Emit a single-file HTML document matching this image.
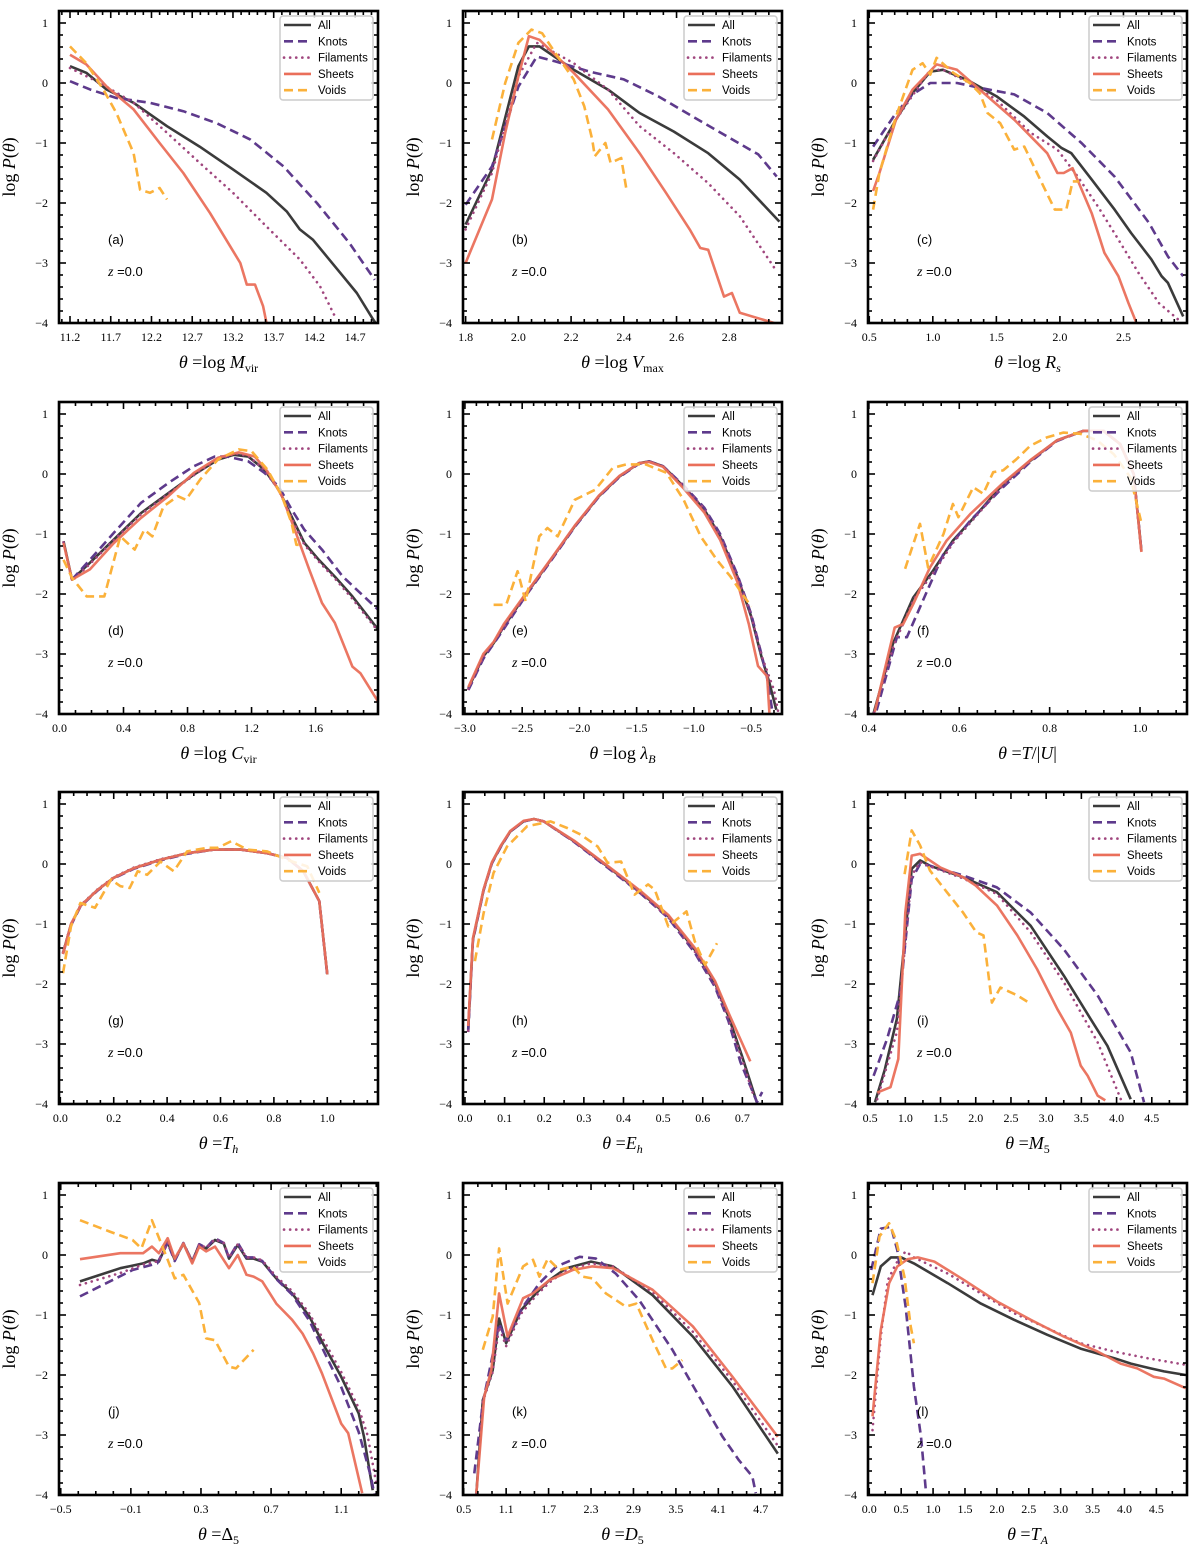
<!DOCTYPE html>
<html><head><meta charset="utf-8">
<style>
html,body{margin:0;padding:0;background:#fff;}
svg text{font-family:"Liberation Serif","DejaVu Serif",serif;}
.sans{font-family:"Liberation Sans","DejaVu Sans",sans-serif;}
</style></head>
<body>
<svg id="fig" width="1200" height="1550" viewBox="0 0 1200 1550" xmlns="http://www.w3.org/2000/svg"></svg>
<script>
// ===== data (x, log P) per panel/series =====
const a_all=[[11.2,0.28],[11.4,0.17],[11.65,-0.11],[11.98,-0.33],[12.39,-0.72],[12.79,-1.06],[13.2,-1.44],[13.61,-1.83],[13.86,-2.14],[14.02,-2.44],[14.18,-2.61],[14.35,-2.89],[14.55,-3.22],[14.72,-3.5],[14.92,-3.94],[14.95,-4.0]];
const a_knots=[[11.2,0.03],[11.45,-0.11],[11.77,-0.25],[12.18,-0.33],[12.59,-0.47],[13.0,-0.67],[13.41,-0.94],[13.82,-1.39],[14.23,-2.0],[14.63,-2.67],[14.94,-3.28]];
const a_fil=[[11.2,0.25],[11.57,0.0],[11.98,-0.33],[12.39,-0.83],[12.79,-1.33],[13.2,-1.83],[13.61,-2.39],[14.02,-2.94],[14.27,-3.39],[14.47,-3.94]];
const a_sheets=[[11.2,0.47],[11.4,0.31],[11.65,-0.06],[11.98,-0.44],[12.3,-1.0],[12.59,-1.5],[12.92,-2.17],[13.29,-3.0],[13.37,-3.36],[13.47,-3.36],[13.57,-3.72],[13.61,-3.99]];
const a_voids=[[11.2,0.61],[11.4,0.33],[11.61,-0.11],[11.77,-0.5],[11.98,-1.17],[12.06,-1.78],[12.18,-1.83],[12.3,-1.75],[12.39,-1.94]];

const b_all=[[1.8,-2.36],[1.9,-1.44],[2.0,0.28],[2.04,0.61],[2.08,0.61],[2.21,0.22],[2.34,-0.11],[2.46,-0.5],[2.59,-0.81],[2.72,-1.17],[2.84,-1.61],[2.99,-2.31]];
const b_knots=[[1.8,-2.03],[1.9,-1.39],[2.0,-0.06],[2.07,0.44],[2.14,0.36],[2.27,0.19],[2.4,0.06],[2.53,-0.22],[2.65,-0.53],[2.78,-0.86],[2.91,-1.19],[2.98,-1.56]];
const b_fil=[[1.8,-2.44],[1.9,-1.5],[2.0,0.11],[2.07,0.67],[2.21,0.33],[2.34,-0.11],[2.46,-0.72],[2.59,-1.17],[2.72,-1.67],[2.84,-2.22],[2.98,-3.14]];
const b_sheets=[[1.8,-3.0],[1.9,-1.94],[1.95,-0.83],[2.0,0.11],[2.04,0.78],[2.08,0.72],[2.21,0.17],[2.34,-0.44],[2.46,-1.17],[2.56,-1.83],[2.65,-2.44],[2.69,-2.75],[2.72,-2.78],[2.78,-3.56],[2.81,-3.5],[2.84,-3.83],[2.97,-4.0]];
const b_voids=[[1.9,-0.94],[1.95,0.0],[2.0,0.67],[2.05,0.89],[2.09,0.83],[2.14,0.5],[2.21,0.06],[2.25,-0.39],[2.28,-0.94],[2.29,-1.22],[2.33,-1.0],[2.35,-1.33],[2.39,-1.25],[2.41,-1.78]];

const c_all=[[0.53,-1.28],[0.71,-0.61],[0.84,-0.17],[0.98,0.19],[1.08,0.22],[1.29,0.03],[1.5,-0.22],[1.72,-0.56],[1.9,-0.89],[2.01,-1.08],[2.09,-1.17],[2.25,-1.61],[2.43,-2.11],[2.56,-2.5],[2.72,-2.94],[2.8,-3.22],[2.85,-3.33],[2.97,-3.89]];
const c_knots=[[0.53,-1.06],[0.71,-0.5],[0.84,-0.19],[0.98,0.0],[1.19,0.0],[1.37,-0.08],[1.64,-0.19],[1.9,-0.5],[2.17,-1.0],[2.43,-1.56],[2.7,-2.33],[2.85,-2.89],[2.97,-3.22]];
const c_fil=[[0.53,-1.3],[0.71,-0.61],[0.98,0.22],[1.08,0.22],[1.29,0.0],[1.5,-0.28],[1.77,-0.83],[1.98,-1.11],[2.14,-1.56],[2.3,-2.06],[2.46,-2.61],[2.62,-3.17],[2.78,-3.67],[2.93,-3.94]];
const c_sheets=[[0.53,-1.8],[0.58,-1.5],[0.71,-0.61],[0.84,-0.11],[1.03,0.31],[1.19,0.22],[1.37,-0.11],[1.64,-0.61],[1.9,-1.17],[1.98,-1.5],[2.03,-1.5],[2.1,-1.42],[2.25,-2.17],[2.35,-2.83],[2.46,-3.22],[2.54,-3.67],[2.6,-3.99]];
const c_voids=[[0.53,-2.11],[0.58,-1.5],[0.71,-0.56],[0.84,0.22],[0.92,0.33],[0.98,0.14],[1.03,0.42],[1.16,0.17],[1.29,0.0],[1.37,-0.17],[1.43,-0.5],[1.53,-0.67],[1.64,-1.11],[1.72,-1.06],[1.82,-1.5],[1.96,-2.11],[2.05,-2.11],[2.1,-1.64],[2.15,-1.64]];

const d_all=[[0.025,-1.12],[0.078,-1.76],[0.19,-1.48],[0.34,-1.09],[0.51,-0.65],[0.68,-0.32],[0.84,-0.01],[0.99,0.24],[1.09,0.32],[1.18,0.29],[1.28,0.07],[1.37,-0.26],[1.45,-0.71],[1.53,-1.15],[1.62,-1.43],[1.72,-1.71],[1.83,-2.04],[1.99,-2.59]];
const d_knots=[[0.078,-1.76],[0.19,-1.43],[0.34,-0.98],[0.51,-0.48],[0.68,-0.15],[0.84,0.13],[0.97,0.29],[1.05,0.29],[1.18,0.21],[1.28,0.02],[1.37,-0.21],[1.45,-0.59],[1.53,-0.93],[1.64,-1.26],[1.77,-1.71],[1.99,-2.26]];
const d_fil=[[0.025,-1.14],[0.078,-1.78],[0.19,-1.5],[0.34,-1.1],[0.51,-0.67],[0.68,-0.33],[0.84,-0.02],[0.99,0.25],[1.1,0.34],[1.18,0.3],[1.28,0.07],[1.37,-0.27],[1.45,-0.73],[1.53,-1.18],[1.62,-1.46],[1.72,-1.74],[1.83,-2.08],[1.99,-2.62]];
const d_sheets=[[0.025,-1.15],[0.078,-1.76],[0.19,-1.59],[0.34,-1.15],[0.51,-0.73],[0.68,-0.37],[0.84,0.02],[0.99,0.27],[1.12,0.36],[1.22,0.29],[1.3,0.04],[1.39,-0.37],[1.47,-0.93],[1.56,-1.59],[1.64,-2.15],[1.72,-2.48],[1.83,-3.21],[1.88,-3.32],[1.99,-3.79]];
const d_voids=[[0.025,-1.43],[0.078,-1.73],[0.17,-2.04],[0.28,-2.04],[0.38,-1.04],[0.47,-1.26],[0.53,-0.93],[0.58,-1.04],[0.65,-0.54],[0.74,-0.37],[0.79,-0.43],[0.88,-0.09],[0.99,0.24],[1.12,0.41],[1.2,0.38],[1.3,0.07],[1.39,-0.37],[1.45,-0.82],[1.48,-1.18],[1.52,-1.18]];

const e_all=[[-2.97,-3.57],[-2.84,-3.04],[-2.75,-2.82],[-2.66,-2.54],[-2.48,-2.04],[-2.25,-1.43],[-2.04,-0.87],[-1.83,-0.37],[-1.65,-0.04],[-1.48,0.18],[-1.39,0.21],[-1.27,0.13],[-1.09,-0.21],[-0.91,-0.59],[-0.77,-1.04],[-0.62,-1.71],[-0.5,-2.37],[-0.41,-3.04],[-0.34,-3.48],[-0.28,-3.93]];
const e_knots=[[-2.97,-3.6],[-2.84,-3.08],[-2.66,-2.58],[-2.48,-2.06],[-2.25,-1.45],[-2.04,-0.88],[-1.83,-0.38],[-1.65,-0.05],[-1.48,0.17],[-1.39,0.21],[-1.27,0.13],[-1.09,-0.19],[-0.91,-0.56],[-0.77,-1.0],[-0.62,-1.68],[-0.5,-2.33],[-0.41,-3.0],[-0.36,-3.4],[-0.31,-4.0]];
const e_fil=[[-2.97,-3.58],[-2.84,-3.05],[-2.66,-2.55],[-2.48,-2.05],[-2.25,-1.44],[-2.04,-0.87],[-1.83,-0.37],[-1.65,-0.04],[-1.48,0.18],[-1.39,0.21],[-1.27,0.13],[-1.09,-0.2],[-0.91,-0.58],[-0.77,-1.03],[-0.62,-1.7],[-0.5,-2.36],[-0.41,-3.02],[-0.3,-3.6],[-0.26,-4.0]];
const e_sheets=[[-2.97,-3.55],[-2.84,-3.0],[-2.75,-2.8],[-2.66,-2.5],[-2.48,-2.02],[-2.25,-1.42],[-2.04,-0.86],[-1.83,-0.36],[-1.65,-0.03],[-1.48,0.18],[-1.39,0.2],[-1.27,0.12],[-1.09,-0.24],[-0.91,-0.64],[-0.77,-1.1],[-0.62,-1.8],[-0.52,-2.5],[-0.44,-3.2],[-0.36,-3.37],[-0.34,-3.98]];
const e_voids=[[-2.75,-2.18],[-2.64,-2.18],[-2.54,-1.62],[-2.47,-2.12],[-2.35,-1.04],[-2.28,-0.9],[-2.19,-1.04],[-2.04,-0.43],[-1.86,-0.26],[-1.71,0.1],[-1.59,0.16],[-1.42,0.16],[-1.24,0.02],[-1.09,-0.43],[-0.94,-1.04],[-0.8,-1.43],[-0.68,-1.71],[-0.5,-2.21]];

const f_all=[[0.41,-4.0],[0.453,-2.83],[0.498,-2.06],[0.542,-1.61],[0.586,-1.11],[0.639,-0.67],[0.697,-0.17],[0.757,0.22],[0.816,0.56],[0.875,0.72],[0.919,0.72],[0.956,0.5],[0.986,0.0],[1.003,-1.28]];
const f_knots=[[0.417,-3.94],[0.462,-2.72],[0.484,-2.72],[0.513,-2.22],[0.565,-1.33],[0.624,-0.78],[0.697,-0.22],[0.757,0.2],[0.816,0.55],[0.875,0.72],[0.919,0.72],[0.956,0.5],[0.986,0.0],[1.003,-1.28]];
const f_fil=[[0.412,-3.97],[0.455,-2.85],[0.5,-2.08],[0.544,-1.63],[0.588,-1.13],[0.64,-0.68],[0.698,-0.18],[0.757,0.21],[0.816,0.56],[0.875,0.72],[0.919,0.72],[0.956,0.5],[0.986,0.0],[1.003,-1.28]];
const f_sheets=[[0.413,-3.96],[0.457,-2.56],[0.476,-2.5],[0.498,-2.17],[0.535,-1.56],[0.572,-1.11],[0.624,-0.67],[0.697,-0.15],[0.757,0.23],[0.816,0.56],[0.875,0.72],[0.919,0.72],[0.956,0.5],[0.986,0.0],[1.003,-1.3]];
const f_voids=[[0.48,-1.58],[0.513,-0.83],[0.531,-1.56],[0.565,-1.0],[0.586,-0.5],[0.598,-0.72],[0.631,-0.22],[0.653,-0.33],[0.675,0.03],[0.697,0.06],[0.727,0.25],[0.757,0.47],[0.794,0.61],[0.83,0.69],[0.868,0.67],[0.905,0.56],[0.942,0.33],[0.979,-0.06],[1.002,-0.78]];

const g_all=[[0.01,-1.48],[0.04,-1.01],[0.075,-0.7],[0.14,-0.43],[0.2,-0.23],[0.275,-0.07],[0.375,0.07],[0.475,0.18],[0.575,0.24],[0.675,0.24],[0.775,0.18],[0.85,0.1],[0.91,-0.12],[0.97,-0.62],[1.0,-1.84]];
const g_knots=[[0.01,-1.5],[0.04,-1.02],[0.075,-0.71],[0.14,-0.44],[0.2,-0.24],[0.275,-0.08],[0.375,0.06],[0.475,0.17],[0.575,0.24],[0.675,0.24],[0.775,0.18],[0.85,0.1],[0.91,-0.12],[0.97,-0.62],[1.0,-1.86]];
const g_fil=[[0.01,-1.47],[0.04,-1.0],[0.075,-0.69],[0.14,-0.42],[0.2,-0.22],[0.275,-0.06],[0.375,0.08],[0.475,0.18],[0.575,0.24],[0.675,0.24],[0.775,0.18],[0.85,0.1],[0.91,-0.12],[0.97,-0.62],[1.0,-1.84]];
const g_sheets=[[0.01,-1.5],[0.04,-1.0],[0.075,-0.7],[0.14,-0.43],[0.2,-0.23],[0.275,-0.07],[0.375,0.07],[0.475,0.18],[0.575,0.24],[0.675,0.24],[0.775,0.18],[0.85,0.1],[0.91,-0.12],[0.97,-0.62],[1.0,-1.84]];
const g_voids=[[0.01,-1.82],[0.04,-1.04],[0.075,-0.65],[0.13,-0.73],[0.19,-0.26],[0.225,-0.37],[0.26,-0.4],[0.29,-0.12],[0.325,-0.18],[0.375,0.04],[0.425,-0.12],[0.475,0.21],[0.55,0.27],[0.59,0.27],[0.64,0.38],[0.7,0.24],[0.775,0.21],[0.85,0.07],[0.925,-0.04],[0.97,-0.48]];

const h_all=[[0.008,-2.76],[0.02,-1.26],[0.047,-0.43],[0.068,0.02],[0.09,0.29],[0.114,0.54],[0.148,0.71],[0.174,0.75],[0.199,0.71],[0.275,0.38],[0.36,-0.04],[0.445,-0.48],[0.513,-0.87],[0.58,-1.43],[0.631,-1.98],[0.665,-2.54],[0.699,-3.2],[0.737,-3.98]];
const h_knots=[[0.008,-2.8],[0.02,-1.28],[0.047,-0.44],[0.068,0.01],[0.09,0.28],[0.114,0.54],[0.148,0.71],[0.174,0.75],[0.199,0.71],[0.275,0.37],[0.36,-0.06],[0.445,-0.5],[0.513,-0.9],[0.58,-1.48],[0.631,-2.05],[0.665,-2.62],[0.695,-3.3],[0.72,-3.7],[0.737,-3.97],[0.75,-3.8]];
const h_fil=[[0.008,-2.78],[0.02,-1.27],[0.047,-0.43],[0.068,0.02],[0.09,0.29],[0.114,0.54],[0.148,0.71],[0.174,0.75],[0.199,0.71],[0.275,0.37],[0.36,-0.05],[0.445,-0.5],[0.513,-0.89],[0.58,-1.46],[0.631,-2.02],[0.665,-2.58],[0.699,-3.25],[0.73,-3.9]];
const h_sheets=[[0.008,-2.7],[0.02,-1.24],[0.047,-0.42],[0.068,0.03],[0.09,0.3],[0.114,0.55],[0.148,0.72],[0.174,0.75],[0.199,0.71],[0.275,0.39],[0.36,-0.03],[0.445,-0.46],[0.513,-0.85],[0.58,-1.4],[0.631,-1.95],[0.665,-2.48],[0.72,-3.29]];
const h_voids=[[0.025,-1.62],[0.047,-0.82],[0.072,-0.15],[0.106,0.29],[0.157,0.63],[0.216,0.71],[0.258,0.6],[0.292,0.49],[0.335,0.29],[0.36,0.02],[0.394,0.04],[0.428,-0.51],[0.462,-0.34],[0.479,-0.43],[0.513,-1.04],[0.559,-0.79],[0.58,-1.29],[0.606,-1.68],[0.636,-1.32]];

const i_all=[[0.57,-3.97],[0.71,-3.42],[0.88,-2.58],[1.09,-0.08],[1.21,0.06],[1.35,-0.03],[1.82,-0.22],[2.3,-0.47],[2.78,-1.03],[3.25,-1.86],[3.63,-2.58],[3.87,-3.03],[4.2,-3.92]];
const i_knots=[[0.55,-3.53],[0.74,-2.92],[0.93,-2.14],[1.09,-0.25],[1.21,0.0],[1.35,-0.03],[1.82,-0.19],[2.3,-0.39],[2.78,-0.81],[3.25,-1.42],[3.73,-2.19],[4.2,-3.14],[4.39,-3.97]];
const i_fil=[[0.6,-3.92],[0.88,-2.8],[1.09,-0.19],[1.21,0.03],[1.35,-0.04],[1.82,-0.24],[2.3,-0.5],[2.78,-1.14],[3.25,-1.97],[3.73,-2.97],[4.06,-3.92]];
const i_sheets=[[0.6,-3.81],[0.79,-3.72],[0.9,-3.25],[1.0,-0.81],[1.09,0.14],[1.21,0.17],[1.5,-0.06],[1.82,-0.22],[2.0,-0.36],[2.3,-0.69],[2.59,-1.19],[2.87,-1.75],[3.16,-2.42],[3.35,-2.81],[3.49,-3.36],[3.59,-3.53],[3.73,-3.86],[3.84,-3.94]];
const i_voids=[[0.99,-0.17],[1.09,0.56],[1.21,0.31],[1.35,-0.11],[1.59,-0.47],[1.82,-0.81],[2.01,-1.14],[2.11,-1.19],[2.23,-2.31],[2.35,-2.06],[2.59,-2.19],[2.78,-2.33]];

const j_all=[[-0.39,-0.44],[-0.16,-0.22],[-0.03,-0.14],[0.02,-0.08],[0.06,-0.11],[0.11,0.22],[0.15,-0.08],[0.2,0.19],[0.25,-0.11],[0.29,0.17],[0.33,0.11],[0.38,0.25],[0.43,0.19],[0.46,-0.06],[0.51,0.17],[0.56,-0.06],[0.6,-0.06],[0.65,-0.11],[0.73,-0.39],[0.82,-0.64],[0.92,-1.03],[1.0,-1.5],[1.1,-2.03],[1.2,-2.64],[1.23,-3.03],[1.28,-3.92]];
const j_knots=[[-0.39,-0.69],[-0.09,-0.25],[0.05,-0.14],[0.11,0.2],[0.15,-0.1],[0.2,0.2],[0.25,-0.12],[0.29,0.18],[0.33,0.12],[0.38,0.28],[0.43,0.2],[0.46,-0.05],[0.51,0.2],[0.56,-0.04],[0.6,-0.04],[0.65,-0.1],[0.73,-0.4],[0.82,-0.66],[0.92,-1.1],[1.0,-1.6],[1.1,-2.2],[1.2,-2.95],[1.27,-3.7],[1.29,-4.0]];
const j_fil=[[-0.39,-0.5],[-0.16,-0.3],[-0.03,-0.16],[0.06,-0.1],[0.11,0.21],[0.15,-0.07],[0.2,0.2],[0.25,-0.1],[0.29,0.18],[0.33,0.12],[0.38,0.26],[0.43,0.2],[0.46,-0.04],[0.51,0.18],[0.56,-0.04],[0.6,-0.04],[0.65,-0.09],[0.73,-0.36],[0.82,-0.6],[0.92,-0.98],[1.0,-1.42],[1.1,-1.95],[1.2,-2.55],[1.25,-3.0],[1.3,-3.8]];
const j_sheets=[[-0.39,-0.07],[-0.16,0.03],[-0.03,0.03],[0.02,0.14],[0.06,0.03],[0.11,0.28],[0.15,-0.06],[0.2,0.19],[0.25,-0.14],[0.29,0.14],[0.33,0.06],[0.38,0.14],[0.46,-0.22],[0.51,0.0],[0.56,-0.33],[0.6,-0.36],[0.65,-0.44],[0.73,-0.81],[0.82,-1.08],[0.88,-1.31],[0.94,-1.64],[0.99,-1.97],[1.1,-2.81],[1.14,-2.97],[1.18,-3.47],[1.22,-3.97]];
const j_voids=[[-0.39,0.58],[-0.22,0.39],[-0.09,0.25],[-0.04,0.11],[0.02,0.58],[0.11,-0.08],[0.15,-0.39],[0.2,-0.33],[0.29,-0.8],[0.33,-1.39],[0.38,-1.42],[0.46,-1.86],[0.5,-1.89],[0.6,-1.58]];

const k_all=[[0.68,-3.97],[0.77,-2.42],[0.91,-1.92],[1.0,-1.06],[1.1,-1.47],[1.31,-0.92],[1.52,-0.64],[1.71,-0.42],[1.95,-0.22],[2.3,-0.11],[2.61,-0.19],[3.17,-0.67],[3.74,-1.36],[4.3,-2.19],[4.94,-3.31]];
const k_knots=[[0.65,-3.64],[0.77,-2.47],[1.0,-1.14],[1.1,-1.42],[1.34,-0.86],[1.57,-0.47],[1.81,-0.19],[2.14,-0.03],[2.37,-0.06],[2.65,-0.31],[2.98,-0.75],[3.45,-1.58],[3.83,-2.36],[4.16,-3.03],[4.39,-3.42],[4.58,-3.69],[4.63,-3.97]];
const k_fil=[[0.68,-3.97],[0.77,-2.45],[0.91,-1.95],[1.0,-1.2],[1.1,-1.52],[1.31,-0.98],[1.52,-0.68],[1.71,-0.46],[1.95,-0.25],[2.3,-0.14],[2.61,-0.19],[3.17,-0.62],[3.74,-1.28],[4.3,-2.1],[4.94,-3.18]];
const k_sheets=[[0.68,-3.97],[0.79,-2.36],[0.89,-1.92],[1.0,-0.64],[1.12,-1.36],[1.34,-0.72],[1.48,-0.64],[1.71,-0.42],[2.04,-0.25],[2.32,-0.19],[2.61,-0.22],[3.17,-0.58],[3.74,-1.19],[4.3,-2.03],[4.94,-3.03]];
const k_voids=[[0.77,-1.58],[0.91,-1.03],[1.0,0.11],[1.12,-0.81],[1.34,-0.19],[1.48,-0.08],[1.57,-0.36],[1.69,-0.06],[1.85,-0.25],[2.04,-0.19],[2.18,-0.36],[2.32,-0.39],[2.51,-0.64],[2.79,-0.86],[2.94,-0.81],[3.17,-1.42],[3.36,-1.89],[3.45,-1.89],[3.59,-1.75]];

const l_all=[[0.05,-0.67],[0.18,-0.19],[0.34,-0.04],[0.5,-0.04],[0.7,-0.14],[1.23,-0.47],[1.75,-0.81],[2.27,-1.08],[2.79,-1.33],[3.31,-1.56],[3.84,-1.72],[4.1,-1.81],[4.41,-1.89],[4.62,-1.94],[4.96,-2.0]];
const l_knots=[[0.03,-0.25],[0.18,0.44],[0.34,0.47],[0.44,0.08],[0.57,-0.86],[0.7,-2.19],[0.81,-3.03],[0.89,-3.97]];
const l_fil=[[0.05,-2.92],[0.18,-1.36],[0.29,-0.42],[0.42,-0.14],[0.57,0.06],[0.7,-0.04],[1.23,-0.31],[1.75,-0.64],[2.27,-0.97],[2.79,-1.22],[3.31,-1.47],[3.84,-1.61],[4.36,-1.72],[4.96,-1.83]];
const l_sheets=[[0.05,-2.69],[0.18,-1.25],[0.31,-0.47],[0.44,-0.19],[0.6,-0.07],[0.76,-0.04],[1.02,-0.11],[1.49,-0.42],[2.01,-0.78],[2.53,-1.08],[3.05,-1.36],[3.58,-1.61],[3.94,-1.81],[4.2,-1.89],[4.46,-2.03],[4.62,-2.06],[4.96,-2.22]];
const l_voids=[[0.05,-0.47],[0.16,0.31],[0.31,0.53],[0.42,0.25],[0.55,-0.36],[0.65,-1.19],[0.7,-1.47]];

// tick labels
const a_ticks=[11.2,11.7,12.2,12.7,13.2,13.7,14.2,14.7];
const b_ticks=[1.8,2.0,2.2,2.4,2.6,2.8];
const c_ticks=[0.5,1.0,1.5,2.0,2.5];
const d_ticks=[0.0,0.4,0.8,1.2,1.6];
const e_ticks=[-3.0,-2.5,-2.0,-1.5,-1.0,-0.5];
const f_ticks=[0.4,0.6,0.8,1.0];
const g_ticks=[0.0,0.2,0.4,0.6,0.8,1.0];
const h_ticks=[0.0,0.1,0.2,0.3,0.4,0.5,0.6,0.7];
const i_ticks=[0.5,1.0,1.5,2.0,2.5,3.0,3.5,4.0,4.5];
const j_ticks=[-0.5,-0.1,0.3,0.7,1.1];
const k_ticks=[0.5,1.1,1.7,2.3,2.9,3.5,4.1,4.7];
const l_ticks=[0.0,0.5,1.0,1.5,2.0,2.5,3.0,3.5,4.0,4.5];
const yTicks=[-4,-3,-2,-1,0,1];
const seriesNames=["All","Knots","Filaments","Sheets","Voids"];

// ===== layout / style =====
const SVGNS="http://www.w3.org/2000/svg";
const fig=document.getElementById('fig');
const colL=[59,463,868], rowT=[11,402,792,1183], PW=319, PH=312;
const YMIN=-4, YMAX=1.2;
const styles=[
 {c:"#3b3b3b",w:2.6,d:null,op:1},
 {c:"#5e3a8c",w:2.6,d:"9,5",op:1},
 {c:"#a0467e",w:2.6,d:"0.1,6",op:1,cap:"round"},
 {c:"#ea6f5a",w:2.6,d:null,op:0.95},
 {c:"#fbb13a",w:2.6,d:"9,5",op:1}
];
const panels=[
 {id:"a",dom:[11.065,14.98],ticks:a_ticks,dec:1,sub:5,s:[a_all,a_knots,a_fil,a_sheets,a_voids],t:'<tspan font-style="italic">θ</tspan> =log <tspan font-style="italic">M</tspan><tspan font-size="12" dy="4">vir</tspan>'},
 {id:"b",dom:[1.79,3.0],ticks:b_ticks,dec:1,sub:4,s:[b_all,b_knots,b_fil,b_sheets,b_voids],t:'<tspan font-style="italic">θ</tspan> =log <tspan font-style="italic">V</tspan><tspan font-size="12" dy="4">max</tspan>'},
 {id:"c",dom:[0.49,3.0],ticks:c_ticks,dec:1,sub:5,s:[c_all,c_knots,c_fil,c_sheets,c_voids],t:'<tspan font-style="italic">θ</tspan> =log <tspan font-style="italic">R</tspan><tspan font-size="12" dy="4" font-style="italic">s</tspan>'},
 {id:"d",dom:[-0.003,1.99],ticks:d_ticks,dec:1,sub:4,s:[d_all,d_knots,d_fil,d_sheets,d_voids],t:'<tspan font-style="italic">θ</tspan> =log <tspan font-style="italic">C</tspan><tspan font-size="12" dy="4">vir</tspan>'},
 {id:"e",dom:[-3.017,-0.23],ticks:e_ticks,dec:1,sub:5,s:[e_all,e_knots,e_fil,e_sheets,e_voids],t:'<tspan font-style="italic">θ</tspan> =log <tspan font-style="italic">λ</tspan><tspan font-size="12" dy="4" font-style="italic">B</tspan>'},
 {id:"f",dom:[0.398,1.104],ticks:f_ticks,dec:1,sub:5,s:[f_all,f_knots,f_fil,f_sheets,f_voids],t:'<tspan font-style="italic">θ</tspan> =<tspan font-style="italic">T</tspan>/|<tspan font-style="italic">U</tspan>|'},
 {id:"g",dom:[-0.005,1.19],ticks:g_ticks,dec:1,sub:4,s:[g_all,g_knots,g_fil,g_sheets,g_voids],t:'<tspan font-style="italic">θ</tspan> =<tspan font-style="italic">T</tspan><tspan font-size="12" dy="4" font-style="italic">h</tspan>'},
 {id:"h",dom:[-0.005,0.8],ticks:h_ticks,dec:1,sub:2,s:[h_all,h_knots,h_fil,h_sheets,h_voids],t:'<tspan font-style="italic">θ</tspan> =<tspan font-style="italic">E</tspan><tspan font-size="12" dy="4" font-style="italic">h</tspan>'},
 {id:"i",dom:[0.47,5.0],ticks:i_ticks,dec:1,sub:2,s:[i_all,i_knots,i_fil,i_sheets,i_voids],t:'<tspan font-style="italic">θ</tspan> =<tspan font-style="italic">M</tspan><tspan font-size="12" dy="4">5</tspan>'},
 {id:"j",dom:[-0.51,1.31],ticks:j_ticks,dec:1,sub:4,s:[j_all,j_knots,j_fil,j_sheets,j_voids],t:'<tspan font-style="italic">θ</tspan> =Δ<tspan font-size="12" dy="4">5</tspan>'},
 {id:"k",dom:[0.49,5.0],ticks:k_ticks,dec:1,sub:3,s:[k_all,k_knots,k_fil,k_sheets,k_voids],t:'<tspan font-style="italic">θ</tspan> =<tspan font-style="italic">D</tspan><tspan font-size="12" dy="4">5</tspan>'},
 {id:"l",dom:[-0.02,4.98],ticks:l_ticks,dec:1,sub:2,s:[l_all,l_knots,l_fil,l_sheets,l_voids],t:'<tspan font-style="italic">θ</tspan> =<tspan font-style="italic">T</tspan><tspan font-size="12" dy="4" font-style="italic">A</tspan>'}
];
function mk(tag,attrs,parent){const e=document.createElementNS(SVGNS,tag);for(const k in attrs)e.setAttribute(k,attrs[k]);(parent||fig).appendChild(e);return e;}
function fmt(v,dec){return (v<0?"\u2212":"")+Math.abs(v).toFixed(dec);}

panels.forEach((p,pi)=>{
 const L=colL[pi%3], T=rowT[Math.floor(pi/3)], R=L+PW, B=T+PH;
 const xs=v=>L+(v-p.dom[0])/(p.dom[1]-p.dom[0])*PW;
 const ys=v=>B-(v-YMIN)/(YMAX-YMIN)*PH;
 const g=mk('g',{});
 
 
 const cid='clip'+p.id;
 const cp=mk('clipPath',{id:cid},g); mk('rect',{x:L,y:T,width:PW,height:PH},cp);
 // series
 const sg=mk('g',{'clip-path':'url(#'+cid+')'},g);
 p.s.forEach((arr,si)=>{
  const st=styles[si];
  const d=arr.map((pt,k)=>(k?'L':'M')+xs(pt[0]).toFixed(1)+' '+ys(pt[1]).toFixed(1)).join(' ');
  const path=mk('path',{d:d,fill:'none',stroke:st.c,'stroke-width':st.w,'stroke-opacity':st.op,'stroke-linejoin':'round','stroke-linecap':st.cap||'butt'},sg);
  if(st.d)path.setAttribute('stroke-dasharray',st.d);
  
  
 });
 // ticks
 const tg=mk('g',{stroke:'#000','stroke-width':1.6},g);
 
 
 const step=p.ticks[1]-p.ticks[0], minor=step/p.sub;
 for(let v=p.ticks[0]-step*3;v<=p.dom[1]+1e-9;v+=minor){
  if(v<p.dom[0]-1e-9)continue;
  const x=xs(v); const isMaj=Math.abs(((v-p.ticks[0])/step)-Math.round((v-p.ticks[0])/step))<1e-6;
  const len=isMaj?7:4;
  mk('line',{x1:x,y1:B,x2:x,y2:B-len},tg); mk('line',{x1:x,y1:T,x2:x,y2:T+len},tg);
 }
 for(let v=-4;v<=1.2+1e-9;v+=0.2){
  const y=ys(v); const isMaj=Math.abs(v-Math.round(v))<1e-6; const len=isMaj?7:4;
  mk('line',{x1:L,y1:y,x2:L+len,y2:y},tg); mk('line',{x1:R,y1:y,x2:R-len,y2:y},tg);
 }
 // tick labels
 p.ticks.forEach(v=>{
  const t=mk('text',{x:xs(v),y:B+18,'text-anchor':'middle','font-size':12},g); t.textContent=fmt(v,p.dec);
  
  
 });
 yTicks.forEach(v=>{
  const t=mk('text',{x:L-11,y:ys(v)+4,'text-anchor':'end','font-size':12},g); t.textContent=(v<0?"\u2212":"")+Math.abs(v);
  
  
 });
 // frame
 const fr=mk('rect',{x:L,y:T,width:PW,height:PH,fill:'none',stroke:'#000','stroke-width':2.6},g);
 
 
 // axis titles
 const xt=mk('text',{x:L+PW/2,y:B+45,'text-anchor':'middle','font-size':18},g); xt.innerHTML=p.t;
 
 
 const yt=mk('text',{x:0,y:0,'text-anchor':'middle','font-size':18,transform:'translate('+(L-44)+','+(T+PH/2)+') rotate(-90)'},g);
 yt.innerHTML='log <tspan font-style="italic">P</tspan>(<tspan font-style="italic">θ</tspan>)';
 
 
 // labels
 const lab=mk('text',{x:L+49,y:T+233,'font-size':13,class:'sans'},g); lab.textContent='('+p.id+')';
 
 
 const zt=mk('text',{x:L+49,y:T+265,'font-size':13},g); zt.innerHTML='<tspan font-style="italic" font-size="14">z</tspan><tspan class="sans" font-family="Liberation Sans, sans-serif"> =0.0</tspan>';
 
 
 // legend
 const lg=mk('g',{},g);
 
 
 mk('rect',{x:L+221,y:T+5,width:93,height:84,rx:3,fill:'#fff','fill-opacity':0.85,stroke:'#cccccc','stroke-width':1.5},lg);
 seriesNames.forEach((nm,si)=>{
  const st=styles[si], yy=T+14+si*16.3;
  const ln=mk('line',{x1:L+225,y1:yy,x2:L+252,y2:yy,stroke:st.c,'stroke-width':st.w,'stroke-linecap':st.cap||'butt'},lg);
  if(st.d)ln.setAttribute('stroke-dasharray',st.d);
  
  
  const tx=mk('text',{x:L+259,y:yy+4,'font-size':11.5,class:'sans'},lg); tx.textContent=nm;
  
  
 });
});
</script>
</body></html>
